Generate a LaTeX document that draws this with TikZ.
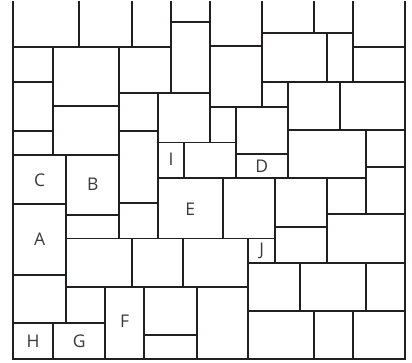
\documentclass[tikz,border=0pt]{standalone}
\usepackage{fontspec}
\setmainfont{Open Sans}
\definecolor{lineink}{HTML}{231F20}
\definecolor{textink}{HTML}{3A3A3A}
\begin{document}
\begin{tikzpicture}[x=1pt,y=-1pt,
  cellline/.style={draw=lineink,line width=1.9pt,line join=miter},
  lbl/.style={text=textink,font=\fontsize{17.5}{20}\selectfont,inner sep=0pt}]
\useasboundingbox (0,0) rectangle (412,363);
\begin{scope}
\clip (0,1.3) rectangle (412,363);
\foreach \xa/\ya/\xb/\yb in {
 13/0/79.3/46.7, 79.3/0/132/46.7, 132/0/171/46.7, 171/0/210/22.3, 171/22.3/210/93.3,
 210/0/262.3/45.7, 210/45.7/262.3/106.7, 262.3/0/314.3/33.3, 314.3/0/353.3/33.3,
 353.3/0/405/46.7, 353.3/46.7/405/81.7, 262.3/33.3/327/81.7, 327/33.3/353.3/81.7,
 13/46.7/53.3/81.7, 13/81.7/53.3/130.7, 13/130.7/53.3/155, 53.3/46.7/119/106,
 53.3/106/119/155, 119/46.7/171/93.3, 119/93.3/157.7/130.7, 157.7/93.3/210/142.5,
 210/106.7/235.7/142.5, 262.3/81.7/287.7/106.7, 235.7/106.7/287.7/154.3,
 235.7/154.3/287.7/178.3, 157.7/142.5/184.3/178.3, 184.3/142.5/235.7/178.3,
 119/130.7/157.7/202.7, 119/202.7/157.7/238.5, 13/155/66.3/204, 66.3/155/119/215,
 66.3/215/119/238.5, 13/204/66.3/275, 13/275/66.3/322.7, 13/322.7/53.3/359.3,
 53.3/322.7/105.3/359.3, 66.3/287/105.3/322.7, 66.3/238.5/131.7/287,
 131.7/238.5/183.3/287, 183.3/238.5/248.3/287, 157.7/178.3/222.7/238.5,
 222.7/178.3/275/238.5, 248.3/238.5/275/262.7, 275/178.3/327/227.3,
 275/227.3/327/262.7, 327/178.3/366/214.3, 327/214.3/405/262.7,
 287.7/81.7/340.3/130, 340.3/81.7/405/130, 287.7/130/366/178.3,
 366/130/405/166.7, 366/166.7/405/214.3, 248.3/262.7/300/311, 300/262.7/366/311,
 366/262.7/405/311, 248.3/311/313.7/359.3, 313.7/311/352.7/359.3,
 352.7/311/405/359.3, 105.3/287/144/359.3, 144/287/197/335, 144/335/197/359.3,
 197/287/248.3/359.3}
 \draw[cellline] (\xa,\ya) rectangle (\xb,\yb);
\end{scope}
\node[lbl] (C) at (39.7,180.5) {C};
\node[lbl] (B) at (92.7,184) {B};
\node[lbl] (I) at (171,159.5) {I};
\node[lbl] (D) at (261.7,166.5) {D};
\node[lbl] (E) at (190.2,209) {E};
\node[lbl] (A) at (39.7,239.5) {A};
\node[lbl] (J) at (261.7,250.5) {J};
\node[lbl] (F) at (124.7,321) {F};
\node[lbl] (H) at (33,341) {H};
\node[lbl] (G) at (79.3,341) {G};
\end{tikzpicture}
\end{document}
